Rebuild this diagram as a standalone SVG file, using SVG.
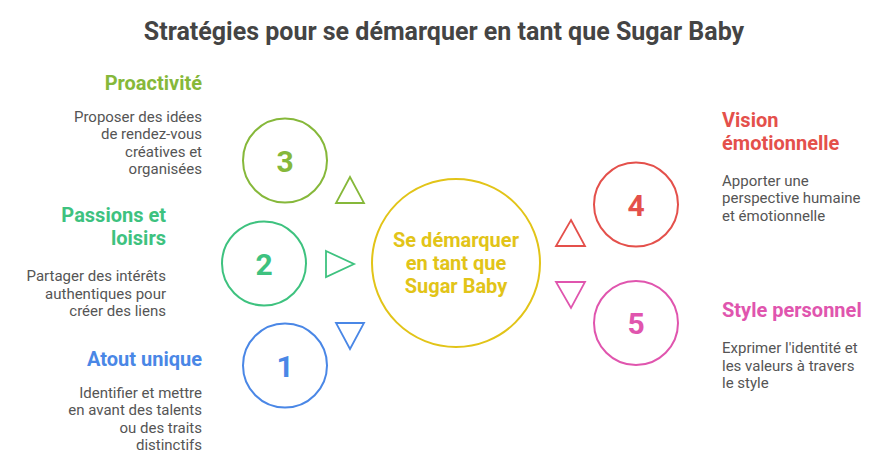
<svg xmlns="http://www.w3.org/2000/svg" width="888" height="468" viewBox="0 0 888 468">
<style>
text{font-family:Roboto,"Liberation Sans",Arial,sans-serif}
.title{font-size:25px;font-weight:700;fill:#444;text-anchor:middle}
.h{font-size:20px;font-weight:700}
.d{font-size:15px;fill:#555}
.r{text-anchor:end}
.num{font-size:30px;font-weight:700;text-anchor:middle}
.c{fill:none;stroke-width:2}
.t{fill:none;stroke-width:1.8;stroke-linejoin:miter}
</style>
<rect width="888" height="468" fill="#fff"/>
<text class="title" x="444" y="40">Stratégies pour se démarquer en tant que Sugar Baby</text>

<g id="center">
<circle cx="456" cy="263" r="84" fill="none" stroke="#e2c418" stroke-width="2"/>
<text font-size="20" font-weight="700" fill="#e2c418" text-anchor="middle"><tspan x="456" y="247">Se démarquer</tspan><tspan x="456" y="270">en tant que</tspan><tspan x="456" y="293">Sugar Baby</tspan></text>
</g>

<g id="connectors">
<polygon class="t" style="stroke:#86b83a" points="350,177 364,203 336,203"/>
<polygon class="t" style="stroke:#3ec27f" points="326,251 354,264 326,277"/>
<polygon class="t" style="stroke:#4a87e6" points="336,323 364,323 350,349"/>
<polygon class="t" style="stroke:#e4504b" points="571,220 585,246 556,246"/>
<polygon class="t" style="stroke:#e055ae" points="556,282 585,282 571,308"/>
</g>

<g id="node3">
<circle class="c" style="stroke:#86b83a" cx="285" cy="160.5" r="42"/>
<text class="num" style="fill:#86b83a" x="285" y="171.5">3</text>
<text class="h r" style="fill:#86b83a" x="202" y="90">Proactivité</text>
<text class="d r"><tspan x="202" y="121.5">Proposer des idées</tspan><tspan x="202" y="139">de rendez-vous</tspan><tspan x="202" y="156.5">créatives et</tspan><tspan x="202" y="174">organisées</tspan></text>
</g>

<g id="node2">
<circle class="c" style="stroke:#3ec27f" cx="264" cy="263.5" r="42"/>
<text class="num" style="fill:#3ec27f" x="264" y="274.5">2</text>
<text class="h r" style="fill:#3ec27f"><tspan x="166" y="221.5">Passions et</tspan><tspan x="166" y="245">loisirs</tspan></text>
<text class="d r"><tspan x="166" y="281">Partager des intérêts</tspan><tspan x="166" y="298.5">authentiques pour</tspan><tspan x="166" y="316">créer des liens</tspan></text>
</g>

<g id="node1">
<circle class="c" style="stroke:#4a87e6" cx="285" cy="365.5" r="42"/>
<text class="num" style="fill:#4a87e6" x="285" y="376.5">1</text>
<text class="h r" style="fill:#4a87e6" x="202" y="366">Atout unique</text>
<text class="d r"><tspan x="202" y="397.5">Identifier et mettre</tspan><tspan x="202" y="415">en avant des talents</tspan><tspan x="202" y="432.5">ou des traits</tspan><tspan x="202" y="450">distinctifs</tspan></text>
</g>

<g id="node4">
<circle class="c" style="stroke:#e4504b" cx="636" cy="204.5" r="42"/>
<text class="num" style="fill:#e4504b" x="636" y="215.5">4</text>
<text class="h" style="fill:#e4504b"><tspan x="722" y="127">Vision</tspan><tspan x="722" y="150">émotionnelle</tspan></text>
<text class="d"><tspan x="722" y="185.5">Apporter une</tspan><tspan x="722" y="203">perspective humaine</tspan><tspan x="722" y="220.5">et émotionnelle</tspan></text>
</g>

<g id="node5">
<circle class="c" style="stroke:#e055ae" cx="636" cy="323" r="42"/>
<text class="num" style="fill:#e055ae" x="636" y="334">5</text>
<text class="h" style="fill:#e055ae" x="722" y="317">Style personnel</text>
<text class="d"><tspan x="722" y="353">Exprimer l'identité et</tspan><tspan x="722" y="370.5">les valeurs à travers</tspan><tspan x="722" y="388">le style</tspan></text>
</g>
</svg>
